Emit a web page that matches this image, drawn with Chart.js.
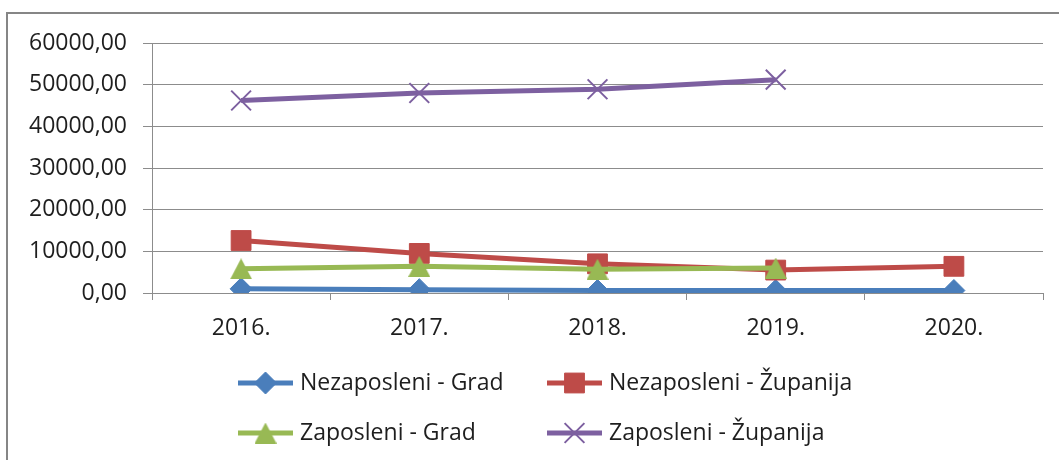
<!DOCTYPE html>
<html>
<head>
<meta charset="utf-8">
<script src="https://cdn.jsdelivr.net/npm/chart.js@4.4.0/dist/chart.umd.min.js"></script>
<style>
  html, body { margin: 0; padding: 0; background: #ffffff; }
  canvas { display: block; }
</style>
</head>
<body>
<canvas id="chart" width="1059" height="460"></canvas>
<script>
// Categories (years)
const years = ['2016.', '2017.', '2018.', '2019.', '2020.'];

// Series values
const nezaposleniGrad     = [1000, 800, 600, 600, 600];
const nezaposleniZupanija = [12600, 9500, 7000, 5500, 6400];
const zaposleniGrad       = [5800, 6400, 5700, 6000, null];
const zaposleniZupanija   = [46200, 48000, 48900, 51200, null];

// Series names
const seriesNames = ['Nezaposleni - Grad', 'Nezaposleni - Županija', 'Zaposleni - Grad', 'Zaposleni - Županija'];

// Value axis range
const yMin = 0, yMax = 60000, yStep = 10000;

const FONT = '"Open Sans", sans-serif';
const TEXT = '#1e1e1e';
const GRID = '#8c8c8c';

const BLUE = '#4a7ebb', RED = '#be4b48', GREEN = '#98b954', PURPLE = '#7d60a0';

// Triangle marker as a small canvas (slightly taller than wide)
function triangleMarker(color, w, h) {
  const c = document.createElement('canvas');
  c.width = w; c.height = h;
  const g = c.getContext('2d');
  g.fillStyle = color;
  g.beginPath();
  g.moveTo(w / 2, 0);
  g.lineTo(w, h);
  g.lineTo(0, h);
  g.closePath();
  g.fill();
  return c;
}
const triGreen = triangleMarker(GREEN, 22, 21);

const formatValue = v => v.toFixed(2).replace('.', ',');

// Outer frame (top and left edges)
const framePlugin = {
  id: 'frame',
  beforeDraw(chart) {
    const ctx = chart.ctx;
    ctx.save();
    ctx.strokeStyle = '#868686';
    ctx.lineWidth = 2;
    ctx.beginPath();
    ctx.moveTo(1059, 13);
    ctx.lineTo(7, 13);
    ctx.lineTo(7, 460);
    ctx.stroke();
    ctx.restore();
  }
};

// Two-column legend below the plot
const legendPlugin = {
  id: 'gridLegend',
  afterDraw(chart) {
    const ctx = chart.ctx;
    const cols = [238, 547];
    const rows = [383, 433];
    const lineLen = 55;
    ctx.save();
    chart.data.datasets.forEach((ds, i) => {
      const x = cols[i % 2];
      const y = rows[Math.floor(i / 2)];
      ctx.strokeStyle = ds.borderColor;
      ctx.lineWidth = ds.borderWidth;
      ctx.lineCap = 'butt';
      ctx.beginPath();
      ctx.moveTo(x, y);
      ctx.lineTo(x + lineLen, y);
      ctx.stroke();
      const cx = x + lineLen / 2;
      if (Chart.helpers && Chart.helpers.drawPoint) {
        ctx.fillStyle = ds.pointBackgroundColor;
        ctx.strokeStyle = ds.pointBorderColor;
        ctx.lineWidth = ds.pointBorderWidth;
        Chart.helpers.drawPoint(ctx, {
          pointStyle: ds.pointStyle,
          radius: ds.pointRadius,
          borderWidth: ds.pointBorderWidth,
          rotation: 0
        }, cx, y);
      }
      ctx.fillStyle = TEXT;
      ctx.font = '23px ' + FONT;
      ctx.textAlign = 'left';
      ctx.textBaseline = 'middle';
      ctx.fillText(ds.label, x + lineLen + 7, y);
    });
    ctx.restore();
  }
};

function build() {
  Chart.defaults.font.family = FONT;
  Chart.defaults.font.size = 23;
  Chart.defaults.color = TEXT;

  new Chart(document.getElementById('chart'), {
    type: 'line',
    data: {
      labels: years,
      datasets: [
        {
          label: seriesNames[0], data: nezaposleniGrad,
          borderColor: BLUE, backgroundColor: BLUE, borderWidth: 5,
          pointStyle: 'rectRot', pointRadius: 11,
          pointBackgroundColor: BLUE, pointBorderColor: BLUE, pointBorderWidth: 1,
          order: 4
        },
        {
          label: seriesNames[1], data: nezaposleniZupanija,
          borderColor: RED, backgroundColor: RED, borderWidth: 5,
          pointStyle: 'rect', pointRadius: 14,
          pointBackgroundColor: RED, pointBorderColor: RED, pointBorderWidth: 1,
          order: 3
        },
        {
          label: seriesNames[2], data: zaposleniGrad,
          borderColor: GREEN, backgroundColor: GREEN, borderWidth: 5,
          pointStyle: triGreen, pointRadius: 11,
          pointBackgroundColor: GREEN, pointBorderColor: GREEN, pointBorderWidth: 1,
          order: 2
        },
        {
          label: seriesNames[3], data: zaposleniZupanija,
          borderColor: PURPLE, backgroundColor: PURPLE, borderWidth: 5,
          pointStyle: 'crossRot', pointRadius: 14,
          pointBackgroundColor: PURPLE, pointBorderColor: PURPLE, pointBorderWidth: 2,
          order: 1
        }
      ]
    },
    options: {
      responsive: false,
      animation: false,
      devicePixelRatio: 1,
      spanGaps: false,
      layout: { padding: { left: 0, right: 13, top: 43, bottom: 0 } },
      plugins: {
        legend: { display: false },
        tooltip: { enabled: false }
      },
      scales: {
        x: {
          offset: true,
          grid: {
            offset: true,
            drawOnChartArea: false,
            drawTicks: true,
            tickLength: 7,
            color: GRID,
            lineWidth: 1
          },
          border: { display: true, color: GRID, width: 1 },
          ticks: { padding: 15, color: TEXT, font: { size: 23 }, maxRotation: 0 },
          afterFit(scale) { scale.height = 167; }
        },
        y: {
          min: yMin, max: yMax,
          grid: {
            drawTicks: true,
            tickLength: 9,
            color: GRID,
            lineWidth: 1
          },
          border: { display: true, color: GRID, width: 1 },
          ticks: {
            stepSize: yStep,
            padding: 16,
            color: TEXT,
            font: { size: 23 },
            callback: v => formatValue(v)
          },
          afterFit(scale) { scale.width = 152; }
        }
      }
    },
    plugins: [framePlugin, legendPlugin]
  });
}

if (document.fonts && document.fonts.load) {
  document.fonts.load('23px "Open Sans"').then(build, build);
} else {
  build();
}
</script>
</body>
</html>
